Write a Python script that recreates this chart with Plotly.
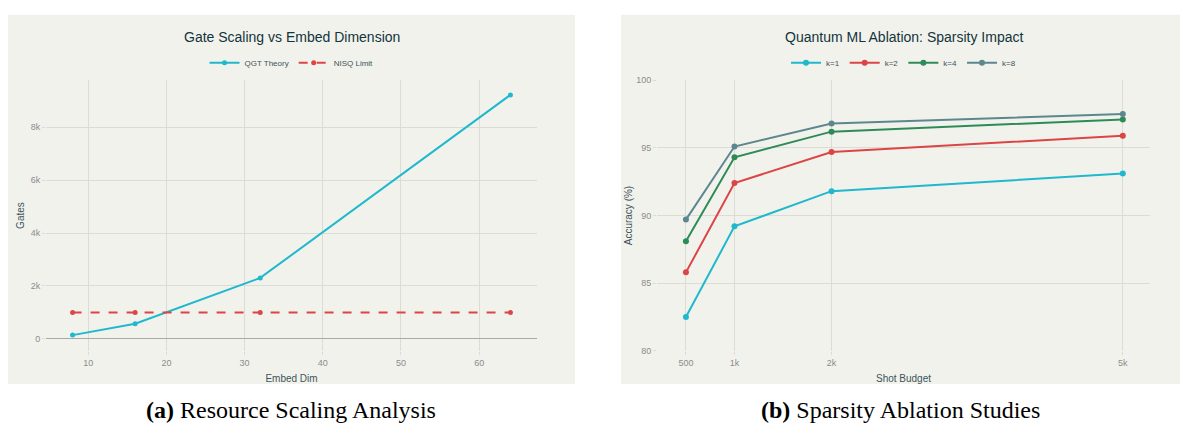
import plotly.graph_objects as go

# ---- data: gate scaling ----
embed_dim = [8, 16, 32, 64]
qgt_gates = [144, 576, 2304, 9216]
nisq_limit = [1000, 1000, 1000, 1000]

# ---- data: sparsity ablation ----
shot_budget = [500, 1000, 2000, 5000]
shot_ticks = ["500", "1k", "2k", "5k"]
acc_k1 = [82.5, 89.2, 91.8, 93.1]
acc_k2 = [85.8, 92.4, 94.7, 95.9]
acc_k4 = [88.1, 94.3, 96.2, 97.1]
acc_k8 = [89.7, 95.1, 96.8, 97.5]

W, H = 1180, 434
BG = "#F2F2ED"
GRID = "#DCDCD6"
TITLE_C = "#13343B"
AXIS_C = "#3D5259"
TICK_C = "#8C8C8C"
SANS = "Liberation Sans, Arial, sans-serif"
SERIF = "Liberation Serif, Times New Roman, serif"


def px_x(p):
    return p / W


def px_y(p):
    return 1 - p / H


# plot-area boxes in pixels (left, right, top, bottom)
A = (46, 537, 77, 354)
B = (657, 1150, 77, 354)

fig = go.Figure()

fig.add_trace(go.Scatter(
    x=embed_dim, y=qgt_gates, name="QGT Theory", mode="lines+markers",
    line=dict(color="#1FB8CD", width=2), marker=dict(size=5),
    xaxis="x", yaxis="y", legend="legend"))
fig.add_trace(go.Scatter(
    x=embed_dim, y=nisq_limit, name="NISQ Limit", mode="lines+markers",
    line=dict(color="#DB4545", width=2, dash="dash"), marker=dict(size=5),
    xaxis="x", yaxis="y", legend="legend"))

for name, vals, col in [("k=1", acc_k1, "#1FB8CD"), ("k=2", acc_k2, "#DB4545"),
                        ("k=4", acc_k4, "#2E8B57"), ("k=8", acc_k8, "#5D878F")]:
    fig.add_trace(go.Scatter(
        x=shot_budget, y=vals, name=name, mode="lines+markers",
        line=dict(color=col, width=2), marker=dict(size=6),
        xaxis="x2", yaxis="y2", legend="legend2"))

axis_common = dict(
    showgrid=True, gridcolor=GRID, gridwidth=1,
    ticks="outside", ticklen=3, tickcolor=GRID,
    tickfont=dict(family=SANS, size=9, color=TICK_C),
    showline=False, zeroline=False,
)

fig.update_layout(
    width=W, height=H, autosize=False,
    margin=dict(l=0, r=0, t=0, b=0),
    paper_bgcolor="white", plot_bgcolor=BG,
    showlegend=True,
    xaxis=dict(domain=[px_x(A[0]), px_x(A[1])], anchor="y", dtick=10, range=[4.6, 67.4],
               title=dict(text="Embed Dim", font=dict(family=SANS, size=10, color=AXIS_C), standoff=8),
               **axis_common),
    yaxis=dict(domain=[px_y(A[3]), px_y(A[2])], anchor="x", dtick=2000, tickformat="~s",
               range=[-450, 9770],
               title=dict(text="Gates", font=dict(family=SANS, size=10, color=AXIS_C), standoff=4),
               **{**axis_common, "zeroline": True, "zerolinecolor": "#A9A9A6", "zerolinewidth": 1}),
    xaxis2=dict(domain=[px_x(B[0]), px_x(B[1])], anchor="y2", range=[202, 5280],
                tickmode="array", tickvals=shot_budget, ticktext=shot_ticks,
                title=dict(text="Shot Budget", font=dict(family=SANS, size=10, color=AXIS_C), standoff=8),
                **axis_common),
    yaxis2=dict(domain=[px_y(B[3]), px_y(B[2])], anchor="x2", range=[80, 100], dtick=5,
                title=dict(text="Accuracy (%)", font=dict(family=SANS, size=10, color=AXIS_C), standoff=1),
                **axis_common),
    legend=dict(orientation="h", x=px_x((A[0] + A[1]) / 2), xanchor="center",
                y=px_y(59), yanchor="middle", bgcolor="rgba(0,0,0,0)",
                font=dict(family=SANS, size=8, color=AXIS_C), itemwidth=30),
    legend2=dict(orientation="h", x=px_x((B[0] + B[1]) / 2), xanchor="center",
                 y=px_y(59), yanchor="middle", bgcolor="rgba(0,0,0,0)",
                 font=dict(family=SANS, size=8, color=AXIS_C), itemwidth=30),
)

# panel backgrounds
for x0, x1 in [(8, 575), (621, 1180)]:
    fig.add_shape(type="rect", xref="paper", yref="paper",
                  x0=px_x(x0), x1=px_x(x1), y0=px_y(388), y1=px_y(10),
                  fillcolor=BG, line=dict(width=0), layer="below")

# panel titles
for txt, box in [("Gate Scaling vs Embed Dimension", A),
                 ("Quantum ML Ablation: Sparsity Impact", B)]:
    fig.add_annotation(text=txt, xref="paper", yref="paper",
                       x=px_x((box[0] + box[1]) / 2), y=px_y(33),
                       xanchor="center", yanchor="middle", showarrow=False,
                       font=dict(family=SANS, size=14, color=TITLE_C))

# captions
for txt, cx in [("<b>(a)</b> Resource Scaling Analysis", 291),
                ("<b>(b)</b> Sparsity Ablation Studies", 900)]:
    fig.add_annotation(text=txt, xref="paper", yref="paper",
                       x=px_x(cx), y=px_y(415), xanchor="center", yanchor="middle",
                       showarrow=False, font=dict(family=SERIF, size=24, color="black"))

fig.write_html("out.html")
